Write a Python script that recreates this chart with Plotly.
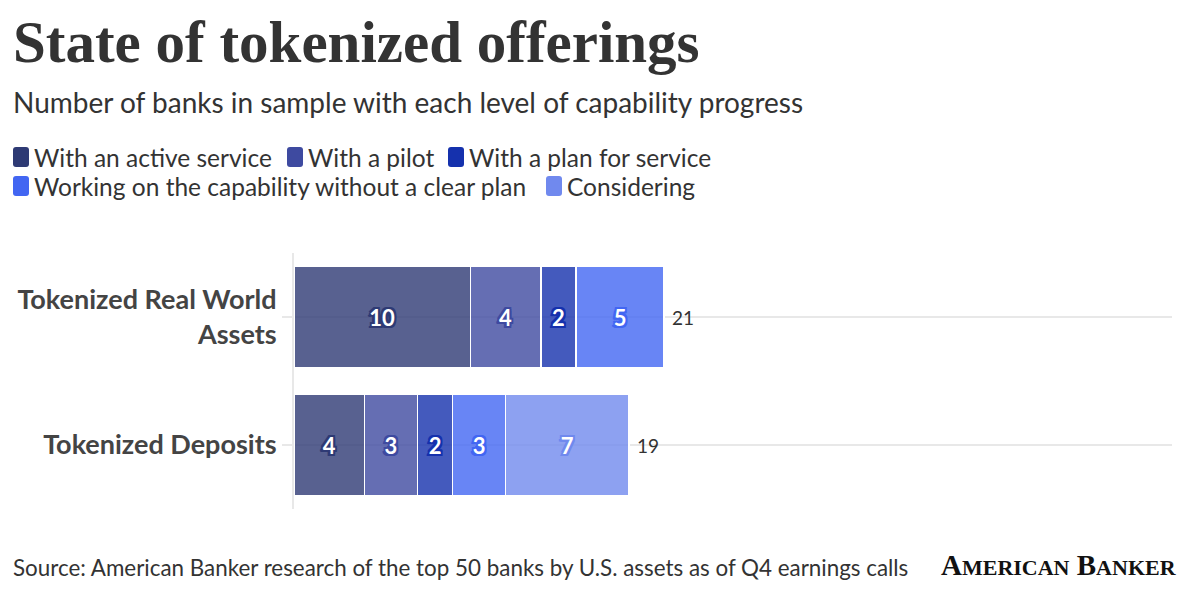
import plotly.graph_objects as go

categories = ["Tokenized Real World Assets", "Tokenized Deposits"]
category_labels = ["Tokenized Real World<br>Assets", "Tokenized Deposits"]
series_names = [
    "With an active service",
    "With a pilot",
    "With a plan for service",
    "Working on the capability without a clear plan",
    "Considering",
]
active = [10, 4]
pilot = [4, 3]
plan = [2, 2]
working = [5, 3]
considering = [None, 7]
series_values = [active, pilot, plan, working, considering]
colors = ["#2e3a74", "#3e4aa0", "#1531ad", "#4266f2", "#7089ee"]

W, H = 1200, 601
OFF = 8  # page offset of the figure inside the browser window
L = 294 - OFF
T = 253 - OFF
PB = 509 - OFF
PR = 1172 - OFF
R = W - PR
B = H - PB
PW, PH = PR - L, PB - T


def px2x(px):
    return (px - OFF - L) / PW


def py2y(py):
    return (PB - (py - OFF)) / PH


def hex2rgba(h, a):
    h = h.lstrip("#")
    return f"rgba({int(h[0:2],16)},{int(h[2:4],16)},{int(h[4:6],16)},{a})"


fig = go.Figure()
for name, vals, c in zip(series_names, series_values, colors):
    shadow = ", ".join(f"{dx}px {dy}px 0px {c}" for dx, dy in
                       [(-2, 0), (2, 0), (0, -2), (0, 2), (-2, -2), (2, 2), (-2, 2), (2, -2), (-3, 2)])
    fig.add_trace(go.Bar(
        y=categories, x=vals, name=name, orientation="h",
        marker=dict(color=hex2rgba(c, 0.8), line=dict(color="white", width=1.5)),
        text=[("" if v is None else str(v)) for v in vals],
        textposition="inside", insidetextanchor="middle", textangle=0,
        constraintext="none",
        textfont=dict(family="Lato", size=22, color="white", weight="bold", shadow=shadow),
        showlegend=False, hoverinfo="skip",
    ))

totals = [sum(v[i] or 0 for v in series_values) for i in range(len(categories))]

annotations = []
for cat, tot in zip(categories, totals):
    annotations.append(dict(text=str(tot), x=tot, y=cat, xref="x", yref="y", xanchor="left", yanchor="middle",
                            xshift=6, showarrow=False, font=dict(family="Lato", size=19, color="#333333")))

shapes = []
annotations.append(dict(text="<b>State of tokenized offerings</b>", x=px2x(11), y=py2y(42), xref="paper", yref="paper",
                        xanchor="left", yanchor="middle", showarrow=False,
                        font=dict(family="Liberation Serif", size=59, color="#333333")))
annotations.append(dict(text="Number of banks in sample with each level of capability progress", x=px2x(11), y=py2y(102),
                        xref="paper", yref="paper", xanchor="left", yanchor="middle", showarrow=False,
                        font=dict(family="Lato", size=28, color="#333333")))
legend_pos = [(13, 157), (287, 157), (448, 157), (13, 186), (546, 186)]
for name, c, (sx, cy) in zip(series_names, colors, legend_pos):
    ax = sx - OFF - L
    ay = PB - (cy - OFF)
    x0, x1 = ax, ax + 16
    y0, y1 = ay - 10, ay + 10
    r = 3
    path = (f"M {x0+r},{y0} L {x1-r},{y0} Q {x1},{y0} {x1},{y0+r} L {x1},{y1-r} Q {x1},{y1} {x1-r},{y1} "
            f"L {x0+r},{y1} Q {x0},{y1} {x0},{y1-r} L {x0},{y0+r} Q {x0},{y0} {x0+r},{y0} Z")
    shapes.append(dict(type="path", path=path, xref="paper", yref="paper", xsizemode="pixel", ysizemode="pixel",
                       xanchor=0, yanchor=0, fillcolor=c, line=dict(width=0)))
    annotations.append(dict(text=name, x=px2x(sx + 19), y=py2y(cy), xref="paper", yref="paper",
                            xanchor="left", yanchor="middle", showarrow=False,
                            font=dict(family="Lato", size=24.5, color="#333333")))
annotations.append(dict(text="Source: American Banker research of the top 50 banks by U.S. assets as of Q4 earnings calls",
                        x=px2x(11), y=py2y(567), xref="paper", yref="paper", xanchor="left", yanchor="middle",
                        showarrow=False, font=dict(family="Lato", size=22.4, color="#333333")))
annotations.append(dict(text="<b>A<span style='font-size:22px'>MERICAN</span> B<span style='font-size:22px'>ANKER</span></b>",
                        x=px2x(1179), y=py2y(565), xref="paper", yref="paper", xanchor="right", yanchor="middle",
                        showarrow=False, font=dict(family="Liberation Serif", size=29, color="#111111")))

fig.update_layout(
    width=W, height=H, margin=dict(l=L, r=R, t=T, b=B, autoexpand=False),
    barmode="stack", bargap=0.2,
    plot_bgcolor="white", paper_bgcolor="white",
    annotations=annotations, shapes=shapes,
    xaxis=dict(range=[0, 49.8], showgrid=False, zeroline=False, showticklabels=False, showline=False,
               fixedrange=True, automargin=False),
    yaxis=dict(categoryorder="array", categoryarray=categories, autorange="reversed",
               tickmode="array", tickvals=categories, ticktext=category_labels,
               showgrid=True, gridcolor="#e8e8e8", gridwidth=2,
               showline=True, linecolor="#e8e8e8", linewidth=2, automargin=False,
               ticks="outside", ticklen=10, tickcolor="#e8e8e8", tickwidth=2,
               tickfont=dict(family="Lato", size=27, color="#444444", weight="bold"), ticklabelstandoff=0),
)

fig.write_html("out.html")
